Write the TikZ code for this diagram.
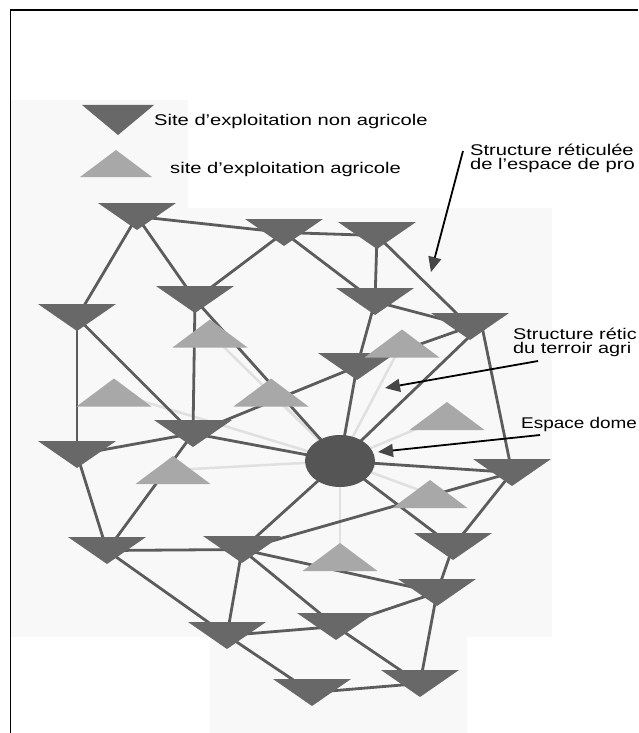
\documentclass[tikz,border=0pt]{standalone}
\usepackage{fontspec}
\setmainfont{Liberation Sans}
\usetikzlibrary{arrows.meta,calc,shapes.geometric}
\definecolor{darktri}{RGB}{104,104,104}
\definecolor{lighttri}{RGB}{168,168,168}
\definecolor{edgecol}{RGB}{92,92,92}
\definecolor{faint}{RGB}{224,224,224}
\definecolor{domcol}{RGB}{85,85,85}
\definecolor{arrowgray}{RGB}{70,70,70}
\definecolor{patch}{RGB}{248,248,248}
\pgfdeclarelayer{bg}
\pgfdeclarelayer{edges}
\pgfsetlayers{bg,edges,main}
\tikzset{
 dtri/.style={rectangle, draw=none, inner sep=0pt, outer sep=0pt, minimum width=78pt, minimum height=27pt,
   path picture={\fill[darktri] (path picture bounding box.north west) -- (path picture bounding box.north east) -- (path picture bounding box.south) -- cycle;}},
 ltri/.style={rectangle, draw=none, inner sep=0pt, outer sep=0pt, minimum width=75pt, minimum height=28pt,
   path picture={\fill[lighttri] (path picture bounding box.south west) -- (path picture bounding box.south east) -- (path picture bounding box.north) -- cycle;}},
 dom/.style={ellipse, fill=domcol, minimum width=70pt, minimum height=52pt, inner sep=0pt},
 link/.style={draw=edgecol, line width=2.8pt},
 flink/.style={draw=faint, line width=2.5pt},
 lbl/.style={anchor=base west, inner sep=0pt, font=\fontsize{15.5}{16}\selectfont},
 pointer/.style={draw=black, line width=1.8pt, -{Triangle[length=15pt,width=13pt,color=arrowgray]}},
}
\begin{document}
\begin{tikzpicture}[x=1pt,y=-1pt]
\useasboundingbox (0,0) rectangle (638,733);
% scan patch background
\begin{pgfonlayer}{bg}
\fill[patch] (10,100) -- (188,100) -- (188,208) -- (552,208) -- (552,637) -- (467,637) -- (467,733) -- (210,733) -- (210,637) -- (10,637) -- cycle;
\end{pgfonlayer}
% frame
\draw[line width=1.3pt] (10.5,733) -- (10.5,10) -- (638,10);

% legend
\node[dtri, minimum width=72pt, minimum height=30pt] (LegD) at (118,120) {};
\node[ltri, minimum width=72pt, minimum height=27pt] (LegL) at (116,163.5) {};
\node[lbl] (T1) at (154,126) {\scalebox{1.3}[1]{Site d'exploitation non agricole}};
\node[lbl] (T2) at (170,173) {\scalebox{1.3}[1]{site d'exploitation agricole}};

% non agricultural sites
\node[dtri] (D1) at (137,216.5) {};
\node[dtri] (D2) at (284,232.5) {};
\node[dtri] (D6) at (377,235.5) {};
\node[dtri] (D3) at (195,299.5) {};
\node[dtri] (D7) at (375,301.5) {};
\node[dtri] (D4) at (77,317.5) {};
\node[dtri] (D8) at (470,326.5) {};
\node[dtri] (D9) at (357,366.5) {};
\node[dtri] (D5) at (193,433.5) {};
\node[dtri] (D10) at (77,454.5) {};
\node[dtri] (D15) at (512,472.5) {};
\node[dtri] (D11) at (107,550.5) {};
\node[dtri] (D12) at (242,549.5) {};
\node[dtri] (D16) at (453,546.5) {};
\node[dtri] (D17) at (437,592.5) {};
\node[dtri] (D18) at (336,626.5) {};
\node[dtri] (D13) at (227,635.5) {};
\node[dtri] (D19) at (420,683.5) {};
\node[dtri] (D14) at (312,692.5) {};

% agricultural sites
\node[ltri] (L1) at (210,333.5) {};
\node[ltri] (L2) at (114,392.5) {};
\node[ltri] (L3) at (271,392.5) {};
\node[ltri] (L4) at (402,343.5) {};
\node[ltri] (L5) at (447,416) {};
\node[ltri] (L6) at (173,470) {};
\node[ltri] (L7) at (430,494) {};
\node[ltri] (L8) at (340,557) {};

% domestic space
\node[dom] (C) at (340,461) {};

\begin{pgfonlayer}{edges}
\foreach \l in {L1,L2,L3,L4,L5,L6,L7,L8}
  \draw[flink] (C.center) -- (\l.center);
\foreach \a/\b in {D1/D2, D2/D6, D1/D4, D1/D3, D2/D3, D2/D7, D6/D7, D6/D8, D7/D8, D7/D9, D8/D9,
   D4/D10, D4/D5, D3/D5, D3/C, D5/D9, D5/C, D9/C, D10/D5, D10/D11, D5/D11,
   D11/D12, D11/D13, D12/D13, D12/C, D12/D15, D12/D17, D12/D18, D13/D18, D13/D14,
   D18/D17, D18/D19, D14/D19, D17/D19, D16/D17, D15/D16, C/D16, C/D15}
  \draw[link] (\a.center) -- (\b.center);
\draw[link] ($(D8.center)+(10,0)$) -- (C.center);
\draw[link] ($(D8.center)+(12,0)$) -- (D15.center);
\end{pgfonlayer}

% annotations
\node[lbl] (T3) at (470,155) {\scalebox{1.3}[1]{Structure réticulée}};
\node[lbl] (T4) at (470,169) {\scalebox{1.3}[1]{de l'espace de pro}};
\node[lbl] (T5) at (513,339) {\scalebox{1.28}[1]{Structure rétic}};
\node[lbl] (T6) at (513,353) {\scalebox{1.28}[1]{du terroir agri}};
\node[lbl] (T7) at (521,428) {\scalebox{1.22}[1]{Espace dome}};

\coordinate (A1s) at (463,151);
\coordinate (A1e) at (431,272);
\coordinate (A2s) at (538,361);
\coordinate (A2e) at (385,388);
\coordinate (A3s) at (540,435);
\coordinate (A3e) at (378,452);
\draw[pointer] (A1s) -- (A1e);
\draw[pointer] (A2s) -- (A2e);
\draw[pointer] (A3s) -- (A3e);
\end{tikzpicture}
\end{document}
